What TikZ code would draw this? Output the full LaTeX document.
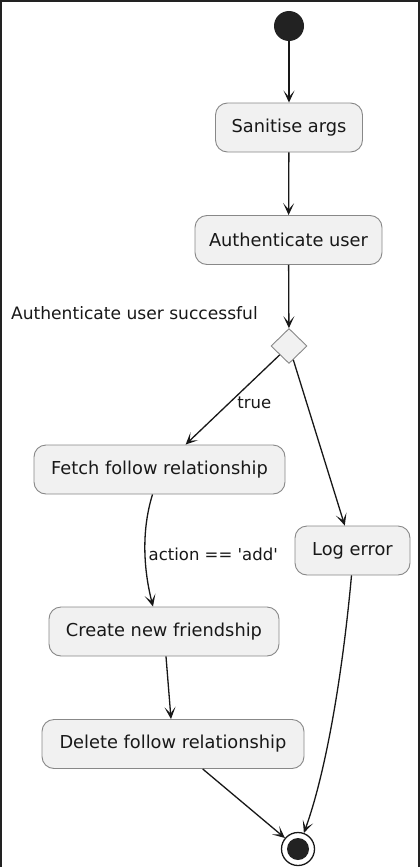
\documentclass[tikz,border=0pt]{standalone}
\usepackage{fontspec}
\setmainfont{DejaVu Sans}
\usetikzlibrary{shapes.geometric,arrows.meta}
\definecolor{boxfill}{HTML}{F1F1F1}
\definecolor{boxline}{HTML}{888888}
\definecolor{ink}{HTML}{181818}
\definecolor{framec}{HTML}{222222}
\tikzset{
  act/.style={draw=boxline, line width=0.9pt, fill=boxfill, rounded corners=12pt,
    minimum height=49pt, inner xsep=0pt, font=\fontsize{17.8}{20}\selectfont, text=ink},
  lbl/.style={font=\fontsize{16.5}{19}\selectfont, text=ink, inner sep=0pt},
  flow/.style={draw=ink, line width=1.3pt, -{Stealth[length=12pt,width=11pt,inset=6.5pt]}},
  decision/.style={diamond, draw=boxline, line width=0.9pt, fill=boxfill, minimum width=36pt, minimum height=35pt, inner sep=0pt}
}
\begin{document}
\begin{tikzpicture}[x=1pt,y=-1pt]
\useasboundingbox (0,0) rectangle (420,867);
\fill[white] (0,0) rectangle (420,867);
\fill[framec] (0,0) rectangle (2,867);
\fill[framec] (0,0) rectangle (420,2);
\fill[framec] (418,0) rectangle (420,867);

\node[circle, fill=framec, minimum size=30pt, inner sep=0pt] (start) at (289,26) {};
\node[act, minimum width=147pt] (san) at (289,127.5) {Sanitise args};
\node[act, minimum width=187pt] (auth) at (288.5,240) {Authenticate user};
\node[decision] (dec) at (289,346) {};
\node[lbl, anchor=base east, font=\fontsize{17.1}{19}\selectfont] (declbl) at (258,319) {Authenticate user successful};
\node[act, minimum width=251pt] (fetch) at (159.5,469.5) {Fetch follow relationship};
\node[act, minimum width=115pt] (log) at (352.5,550.5) {Log error};
\node[act, minimum width=230pt] (create) at (164,631.5) {Create new friendship};
\node[act, minimum width=262pt] (del) at (173,744) {Delete follow relationship};
\node[circle, draw=ink, line width=1.3pt, fill=white, minimum size=33pt, inner sep=0pt] (end) at (298,849) {};
\node[circle, fill=framec, minimum size=22pt, inner sep=0pt] (endin) at (298,849) {};

\draw[flow] (start) -- (san);
\draw[flow] (san) -- (auth);
\draw[flow] (auth) -- (dec);
\draw[flow] (dec) -- node[lbl, pos=0.53, anchor=west, xshift=7pt] (ltrue) {true} (fetch);
\draw[flow] (dec) -- (log);
\draw[flow] ([xshift=-7pt]fetch.south) .. controls (140,535) and (145,575) .. node[lbl, pos=0.5, anchor=west, xshift=3pt] (ladd) {action == \textquotesingle add\textquotesingle} ([xshift=-11pt]create.north);
\draw[flow] (create) -- (del);
\draw[flow] (del) -- (end);
\draw[flow] ([xshift=-1pt]log.south) .. controls (342,680) and (325,775) .. (end);
\end{tikzpicture}
\end{document}
